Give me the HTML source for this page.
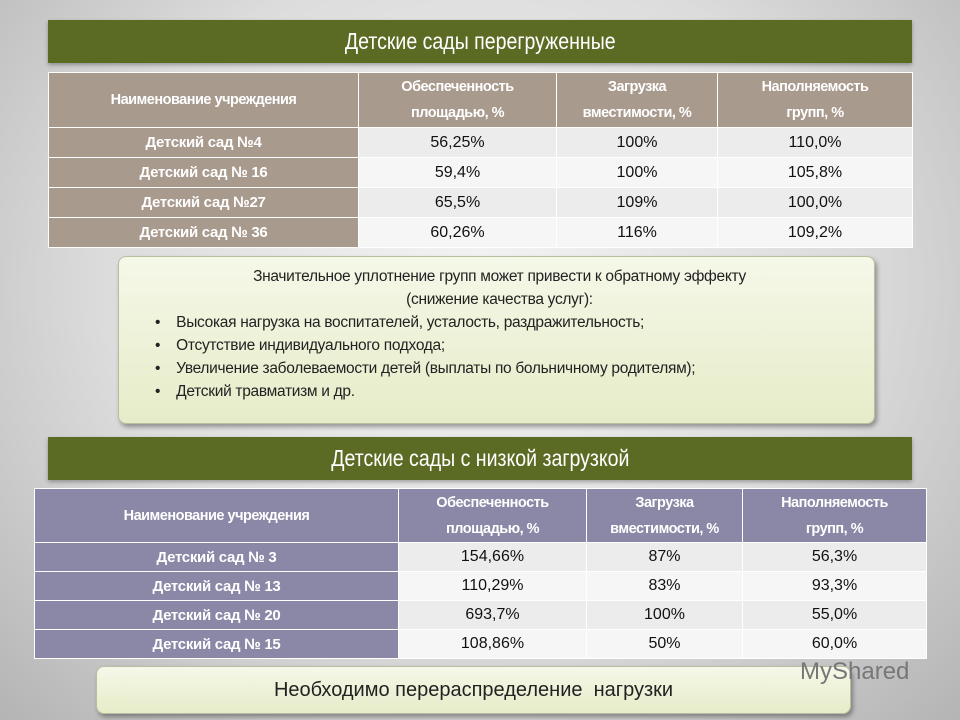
<!DOCTYPE html>
<html><head><meta charset="utf-8"><style>
*{margin:0;padding:0;box-sizing:border-box}
body{width:960px;height:720px;overflow:hidden;font-family:"Liberation Sans","Noto Sans CJK SC",sans-serif;background:radial-gradient(ellipse at 50% 40%,#f4f4f4 0%,#dcdcdc 55%,#b4b4b4 100%);position:relative}
.banner{position:absolute;left:48px;width:864px;height:43px;background:#5b6b24;color:#fff;text-align:center;line-height:43px;box-shadow:0 2px 4px rgba(0,0,0,.3)}
.banner span{display:inline-block;font-size:23px;transform:scaleX(.85)}
table{position:absolute;border-collapse:collapse;table-layout:fixed}
td,th{border:1px solid #fff;text-align:center;font-size:15px}
th{color:#fff;font-weight:bold;line-height:26px;font-size:14.5px;letter-spacing:-0.5px}
td.n{color:#fff;font-weight:bold;letter-spacing:-0.3px}
td.v{color:#111;font-size:16px}
.t1 th,.t1 td.n{background:#a99a8e}
.t2 th,.t2 td.n{background:#8a88a6}
tr.a td.v{background:#ececec}
tr.b td.v{background:#f6f6f6}
.scroll{position:absolute;background:linear-gradient(#f5f8e8,#e6ecc9);border:1px solid #b8bf9e;border-radius:8px;box-shadow:2px 3px 5px rgba(0,0,0,.35);color:#222}
</style></head><body>
<div class="banner" style="top:20px"><span>Детские сады перегруженные</span></div>
<table class="t1" style="left:48px;top:72px;width:864px">
<colgroup><col style="width:310px"><col style="width:198px"><col style="width:161px"><col style="width:195px"></colgroup>
<tr style="height:55px"><th>Наименование учреждения</th><th>Обеспеченность<br>площадью, %</th><th>Загрузка<br>вместимости, %</th><th>Наполняемость<br>групп, %</th></tr>
<tr class="a" style="height:30px"><td class="n">Детский сад №4</td><td class="v">56,25%</td><td class="v">100%</td><td class="v">110,0%</td></tr>
<tr class="b" style="height:30px"><td class="n">Детский сад № 16</td><td class="v">59,4%</td><td class="v">100%</td><td class="v">105,8%</td></tr>
<tr class="a" style="height:30px"><td class="n">Детский сад №27</td><td class="v">65,5%</td><td class="v">109%</td><td class="v">100,0%</td></tr>
<tr class="b" style="height:30px"><td class="n">Детский сад № 36</td><td class="v">60,26%</td><td class="v">116%</td><td class="v">109,2%</td></tr>
</table>
<div class="scroll" style="left:118px;top:256px;width:757px;height:168px;padding:8px 30px 0 36px;font-size:15.5px;line-height:23px;letter-spacing:-0.3px">
<div style="text-align:center">Значительное уплотнение групп может привести к обратному эффекту<br>(снижение качества услуг):</div>
<div>•&nbsp;&nbsp;&nbsp;&nbsp;Высокая нагрузка на воспитателей, усталость, раздражительность;</div>
<div>•&nbsp;&nbsp;&nbsp;&nbsp;Отсутствие индивидуального подхода;</div>
<div>•&nbsp;&nbsp;&nbsp;&nbsp;Увеличение заболеваемости детей (выплаты по больничному родителям);</div>
<div>•&nbsp;&nbsp;&nbsp;&nbsp;Детский травматизм и др.</div>
</div>
<div class="banner" style="top:437px"><span>Детские сады с низкой загрузкой</span></div>
<table class="t2" style="left:34px;top:488px;width:892px">
<colgroup><col style="width:364px"><col style="width:188px"><col style="width:156px"><col style="width:184px"></colgroup>
<tr style="height:54px"><th>Наименование учреждения</th><th>Обеспеченность<br>площадью, %</th><th>Загрузка<br>вместимости, %</th><th>Наполняемость<br>групп, %</th></tr>
<tr class="a" style="height:29px"><td class="n">Детский сад № 3</td><td class="v">154,66%</td><td class="v">87%</td><td class="v">56,3%</td></tr>
<tr class="b" style="height:29px"><td class="n">Детский сад № 13</td><td class="v">110,29%</td><td class="v">83%</td><td class="v">93,3%</td></tr>
<tr class="a" style="height:29px"><td class="n">Детский сад № 20</td><td class="v">693,7%</td><td class="v">100%</td><td class="v">55,0%</td></tr>
<tr class="b" style="height:29px"><td class="n">Детский сад № 15</td><td class="v">108,86%</td><td class="v">50%</td><td class="v">60,0%</td></tr>
</table>
<div class="scroll" style="left:96px;top:666px;width:755px;height:48px;text-align:center;line-height:46px;font-size:20px">Необходимо перераспределение&nbsp; нагрузки</div>
<div style="position:absolute;left:800px;top:658px;font-size:24px;color:#777">MyShared</div>
</body></html>
